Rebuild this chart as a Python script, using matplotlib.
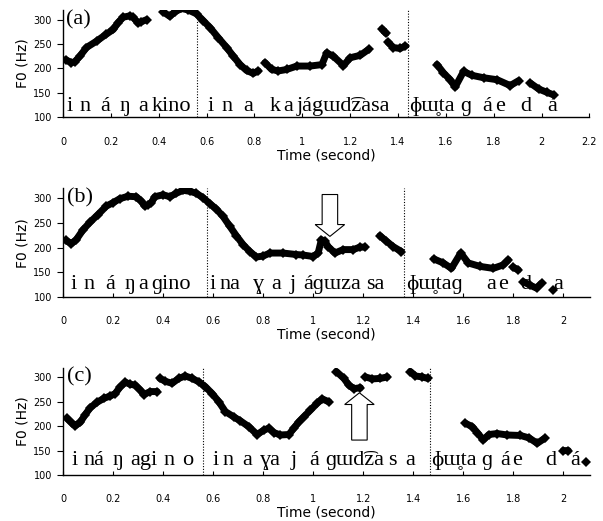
import numpy as np
import matplotlib

matplotlib.use("Agg")
import matplotlib.pyplot as plt
import matplotlib.transforms as mtransforms
from matplotlib.patches import FancyArrow

nan = np.nan

# F0 contours (nan = gap between voiced stretches)
a_time = [0.011, 0.035, 0.05, 0.07, 0.098, 0.14, 0.18, 0.21, 0.23, 0.251, 0.279, 0.293, 0.314, 0.328, 0.349, nan,
          0.419, 0.446, 0.467, 0.495, 0.523, 0.558, 0.586, 0.614, 0.649, 0.684, 0.712, 0.74, 0.767, 0.795, 0.816, nan,
          0.844, 0.872, 0.9, 0.935, 0.977, 1.033, 1.082, 1.102, 1.13, 1.172, 1.2, 1.242, 1.277, nan,
          1.333, 1.35, nan, 1.358, 1.381, 1.409, 1.43, nan,
          1.563, 1.59, 1.618, 1.639, 1.674, 1.709, 1.758, 1.814, 1.869, 1.904, nan,
          1.953, 1.988, 2.023, 2.05]
a_f0 = [218, 212, 214, 225, 243, 256, 270, 280, 294, 305, 308, 305, 293, 296, 300, nan,
        316, 307, 316, 323, 320, 312, 298, 284, 263, 243, 225, 208, 196, 190, 195, nan,
        212, 198, 195, 198, 205, 205, 208, 232, 225, 206, 222, 227, 239, nan,
        281, 272, nan, 254, 243, 241, 246, nan,
        208, 191, 177, 162, 194, 186, 181, 177, 165, 175, nan,
        170, 158, 151, 146]

b_time = [0.011, 0.033, 0.053, 0.08, 0.107, 0.14, 0.173, 0.2, 0.227, 0.26, 0.293, 0.313, 0.327, 0.34, 0.353, 0.367,
          0.4, 0.427, 0.453, 0.48, 0.507, 0.533, 0.56, 0.587, 0.613, 0.64, 0.667, 0.693, 0.72, 0.747, 0.773, 0.8,
          0.827, 0.88, 0.933, 0.96, 1.0, 1.02, 1.033, 1.047, 1.06, 1.087, 1.12, 1.16, 1.187, 1.207, nan,
          1.267, 1.293, 1.32, 1.353, nan,
          1.483, 1.52, 1.553, 1.59, 1.62, 1.667, 1.72, 1.76, 1.78, nan,
          1.8, 1.82, nan,
          1.84, 1.867, 1.893, 1.913, nan,
          1.96]
b_f0 = [215, 208, 216, 236, 251, 267, 284, 291, 299, 304, 303, 294, 284, 287, 291, 303,
        307, 303, 310, 316, 314, 310, 301, 289, 278, 263, 243, 224, 206, 192, 181, 183,
        189, 189, 186, 185, 182, 189, 216, 213, 202, 189, 196, 196, 201, 201, nan,
        224, 213, 202, 192, nan,
        177, 169, 158, 189, 169, 162, 158, 165, 175, nan,
        160, 155, nan,
        131, 124, 118, 128, nan,
        114]

c_time = [0.016, 0.036, 0.049, 0.069, 0.089, 0.109, 0.136, 0.163, 0.189, 0.209, 0.229, 0.249, 0.269, 0.289, 0.309,
          0.323, 0.349, 0.376, nan,
          0.387, 0.409, 0.436, 0.463, 0.489, 0.516, 0.543, 0.569, 0.596, 0.623, 0.649, 0.683, 0.709, 0.743, 0.776,
          0.803, 0.823, 0.843, 0.869, 0.903, 0.923, 0.943, 0.962, 0.989, 1.016, 1.036, 1.063, nan,
          1.093, 1.123, 1.143, 1.163, 1.189, nan,
          1.209, 1.236, 1.269, 1.296, nan,
          1.389, 1.409, 1.436, 1.458, nan,
          1.609, 1.636, 1.656, 1.68, 1.703, 1.736, 1.776, 1.829, 1.863, 1.896, 1.925, nan,
          2.0, 2.02, nan,
          2.089]
c_f0 = [216, 206, 201, 208, 224, 238, 249, 257, 262, 267, 281, 290, 286, 284, 274,
        265, 271, 271, nan,
        298, 292, 288, 298, 303, 298, 291, 281, 267, 250, 230, 219, 211, 199, 183,
        192, 196, 187, 182, 183, 196, 209, 219, 233, 247, 256, 250, nan,
        312, 298, 284, 277, 279, nan,
        301, 297, 298, 301, nan,
        312, 303, 301, 298, nan,
        206, 199, 187, 172, 183, 185, 182, 181, 176, 165, 175, nan,
        150, 150, nan,
        126]

# segmentation text: (start time, transcription)
a_labels = [(0.014, "i"), (0.07, "n"), (0.154, "á"), (0.237, "ŋ"), (0.313, "a"), (0.37, "kino"),
            (0.606, "i"), (0.664, "n"), (0.752, "a"), (0.865, "k"), (0.92, "a"), (0.976, "jágɯd͡zasa"),
            (1.445, "ɸɯ̥ta"), (1.66, "ɡ"), (1.751, "á"), (1.807, "e"), (1.912, "d"), (2.023, "á")]
b_labels = [(0.03, "i"), (0.08, "n"), (0.167, "á"), (0.247, "ŋ"), (0.3, "a"), (0.353, "ɡino"),
            (0.587, "i"), (0.627, "na"), (0.76, "ɣ"), (0.833, "a"), (0.907, "j"), (0.96, "áɡɯza"),
            (1.213, "sa"), (1.373, "ɸɯ̥taɡ"), (1.693, "a"), (1.74, "e"), (1.827, "d"), (1.96, "a")]
c_labels = [(0.036, "i"), (0.083, "ná"), (0.196, "ŋ"), (0.269, "agi"), (0.402, "n"), (0.476, "o"),
            (0.596, "i"), (0.636, "n"), (0.716, "a"), (0.789, "ɣa"), (0.909, "j"), (0.983, "á"),
            (1.049, "ɡɯd͡za"), (1.3, "s"), (1.369, "a"), (1.472, "ɸɯ̥ta"), (1.672, "ɡ"), (1.75, "á"),
            (1.795, "e"), (1.929, "d"), (2.029, "á")]

a_bounds = [0.561, 1.44]
b_bounds = [0.576, 1.364]
c_bounds = [0.56, 1.466]

# arrows: (x, tail f0, tip f0)
b_arrow = (1.067, 307.5, 222.7)
c_arrow = (1.185, 171.6, 268.5)

SERIF = ["Liberation Serif", "DejaVu Serif"]


def draw_panel(ax, tag, time, f0, labels, bounds, xmax, xticks, label_y, arrow=None):
    ax.plot(time, f0, color="black", lw=5.0, marker="D", ms=5.0, mew=0, solid_capstyle="round", zorder=3)
    for b in bounds:
        ax.axvline(b, color="black", lw=0.8, ls=(0, (1, 1.5)), zorder=1)
    for t, s in labels:
        ax.text(t, label_y, s, family=SERIF, fontsize=16, ha="left", va="baseline", zorder=2)
    trans = mtransforms.blended_transform_factory(ax.transData, ax.transAxes)
    ax.text(0.014, 1.0, tag, family=SERIF, fontsize=16, ha="left", va="top", transform=trans)

    if arrow is not None:
        x, y0, y1 = arrow
        ax.add_patch(FancyArrow(x, y0, 0, y1 - y0, width=0.062, head_width=0.118, head_length=24,
                                length_includes_head=True, fc="white", ec="black", lw=0.8, zorder=4))

    ax.set_xlim(0, xmax)
    ax.set_ylim(100, 320)
    ax.set_xticks(xticks)
    ax.set_xticklabels([f"{v:g}" for v in xticks])
    ax.set_yticks([100, 150, 200, 250, 300])
    for side in ("top", "right"):
        ax.spines[side].set_visible(False)
    for side in ("left", "bottom"):
        ax.spines[side].set_linewidth(1.0)
    ax.tick_params(axis="x", direction="in", length=3, pad=14, labelsize=7)
    ax.tick_params(axis="y", direction="out", length=4, pad=4, labelsize=7)
    ax.set_xlabel("Time (second)", fontsize=10, labelpad=1)
    ax.set_ylabel("F0 (Hz)", fontsize=10, labelpad=3)


def main() -> None:
    fig = plt.figure(figsize=(6.03, 5.21), dpi=100)
    left, width = 0.1045, 0.874
    ax_a = fig.add_axes([left, 0.7749, 0.873, 0.206])
    ax_b = fig.add_axes([left, 0.4299, width, 0.2086])
    ax_c = fig.add_axes([left, 0.0883, width, 0.206])

    ticks_a = np.round(np.arange(0, 2.21, 0.2), 1)
    ticks_bc = np.round(np.arange(0, 2.01, 0.2), 1)

    draw_panel(ax_a, "(a)", a_time, a_f0, a_labels, a_bounds, 2.2, ticks_a, 112)
    draw_panel(ax_b, "(b)", b_time, b_f0, b_labels, b_bounds, 2.107, ticks_bc, 116, arrow=b_arrow)
    draw_panel(ax_c, "(c)", c_time, c_f0, c_labels, c_bounds, 2.107, ticks_bc, 120, arrow=c_arrow)

    fig.savefig("out.png", dpi=100)
    plt.close(fig)


if __name__ == "__main__":
    main()
